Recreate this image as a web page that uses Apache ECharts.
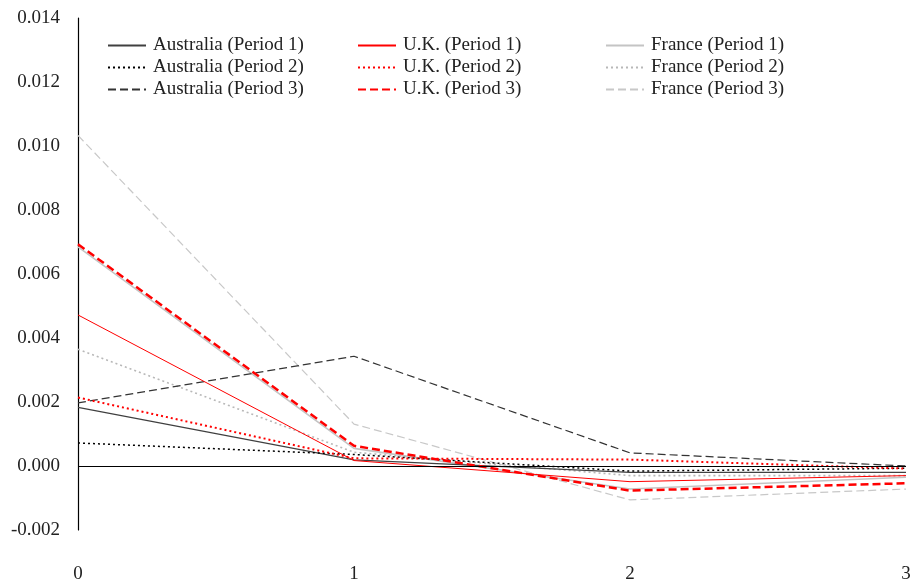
<!DOCTYPE html>
<html>
<head>
<meta charset="utf-8">
<script src="https://cdn.jsdelivr.net/npm/echarts@6/dist/echarts.min.js"></script>
<style>
  html, body { margin: 0; padding: 0; background: #fff; }
  #chart { width: 915px; height: 584px; }
</style>
</head>
<body>
<div id="chart"></div>
<script>
  // 横轴期数
  const steps = ['0', '1', '2', '3'];
  const yTicks = [-0.002, 0.014, 0.002]; // min, max, interval

  const ausP1 = [0.00183, 0.00019, -0.00020, -0.00020];
  const ausP2 = [0.00072, 0.00036, -0.00016, -0.00007];
  const ausP3 = [0.00197, 0.00343, 0.00041, 0.00000];
  const ukP1 = [0.00472, 0.00017, -0.00049, -0.00030];
  const ukP2 = [0.00214, 0.00024, 0.00020, -0.00008];
  const ukP3 = [0.00693, 0.00063, -0.00077, -0.00054];
  const frP1 = [0.00685, 0.00055, -0.00072, -0.00035];
  const frP2 = [0.00365, 0.00043, -0.00030, -0.00030];
  const frP3 = [0.01033, 0.00131, -0.00106, -0.00072];

  const font = 'Liberation Serif';
  const dotted = [2, 3];
  const dashed = [8, 4];

  function line(name, data, color, width, type) {
    return {
      name: name,
      type: 'line',
      data: data,
      symbol: 'none',
      silent: true,
      lineStyle: { color: color, width: width, type: type, cap: 'butt' },
      itemStyle: { color: color }
    };
  }

  const series = [
    line('France (Period 1)', frP1, '#c4c4c4', 1.6, 'solid'),
    line('France (Period 2)', frP2, '#b8b8b8', 1.6, dotted),
    line('France (Period 3)', frP3, '#c8c8c8', 1.2, dashed),
    line('Australia (Period 1)', ausP1, '#404040', 1.2, 'solid'),
    line('Australia (Period 2)', ausP2, '#000000', 1.5, dotted),
    line('Australia (Period 3)', ausP3, '#333333', 1.2, dashed),
    line('U.K. (Period 1)', ukP1, '#ff0000', 1, 'solid'),
    line('U.K. (Period 2)', ukP2, '#ff0000', 2, dotted),
    line('U.K. (Period 3)', ukP3, '#ff0000', 2.5, dashed)
  ];
  // 零线
  series[3].markLine = {
    silent: true,
    symbol: ['none', 'none'],
    label: { show: false },
    lineStyle: { color: '#000', width: 1, type: 'solid' },
    data: [{ yAxis: 0 }]
  };

  function legendCol(left, names) {
    return {
      left: left,
      top: 31,
      orient: 'vertical',
      data: names,
      itemWidth: 38,
      itemHeight: 14,
      itemGap: 3,
      selectedMode: false,
      itemStyle: { opacity: 0 },
      textStyle: { fontFamily: font, fontSize: 19, color: '#222', padding: [0, 0, 0, 2] }
    };
  }

  const myChart = echarts.init(document.getElementById('chart'));
  myChart.setOption({
    animation: false,
    backgroundColor: '#fff',
    grid: { left: 78, right: 9, top: 18, bottom: 53 },
    legend: [
      legendCol(102, ['Australia (Period 1)', 'Australia (Period 2)', 'Australia (Period 3)']),
      legendCol(352, ['U.K. (Period 1)', 'U.K. (Period 2)', 'U.K. (Period 3)']),
      legendCol(600, ['France (Period 1)', 'France (Period 2)', 'France (Period 3)'])
    ],
    xAxis: {
      type: 'category',
      data: steps,
      boundaryGap: false,
      axisLine: { show: false },
      axisTick: { show: false },
      splitLine: { show: false },
      axisLabel: { fontFamily: font, fontSize: 19, color: '#222', margin: 35 }
    },
    yAxis: {
      type: 'value',
      min: yTicks[0],
      max: yTicks[1],
      interval: yTicks[2],
      axisLine: { show: true, lineStyle: { color: '#000', width: 1.2 } },
      axisTick: { show: false },
      splitLine: { show: false },
      axisLabel: {
        fontFamily: font, fontSize: 19, color: '#222', margin: 18,
        formatter: function (v) { return v.toFixed(3); }
      }
    },
    series: series
  });
</script>
</body>
</html>
